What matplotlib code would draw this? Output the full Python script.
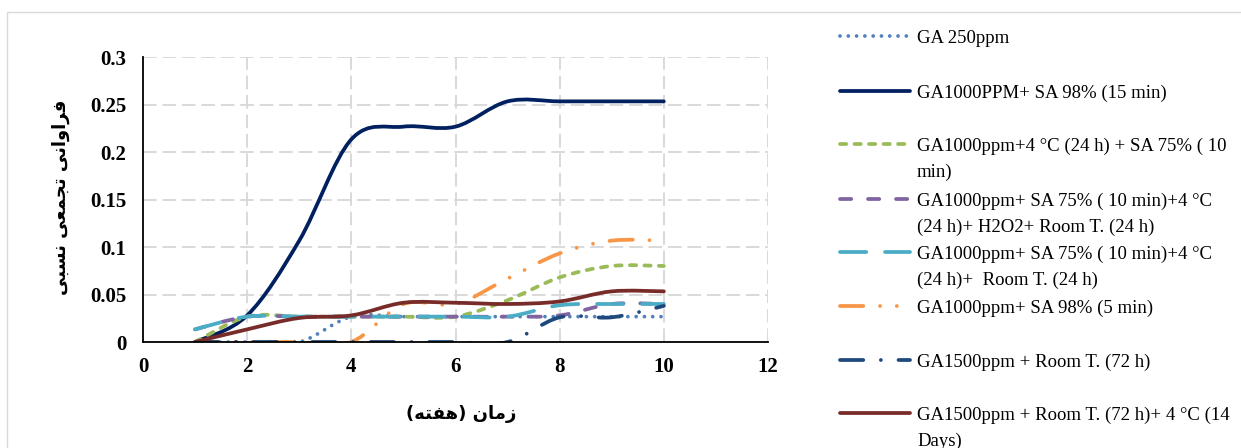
import numpy as np
import matplotlib.pyplot as plt
from matplotlib.path import Path
from matplotlib.patches import PathPatch, Rectangle
from matplotlib.lines import Line2D

# weeks and cumulative relative frequency per treatment
weeks = [1, 2, 3, 4, 5, 6, 7, 8, 9, 10]
ga250 = [0, 0, 0, 0.0267, 0.0267, 0.0267, 0.0267, 0.0267, 0.0267, 0.0267]
ga1000_sa98_15 = [0, 0.028, 0.1067, 0.2133, 0.2267, 0.2267, 0.2533, 0.2533, 0.2533, 0.2533]
ga1000_cold_sa75 = [0, 0.0267, 0.0267, 0.0267, 0.0267, 0.0267, 0.044, 0.068, 0.08, 0.08]
ga1000_sa75_h2o2 = [0.0133, 0.0267, 0.0267, 0.0267, 0.0267, 0.0267, 0.0267, 0.028, 0.04, 0.04]
ga1000_sa75_room = [0.0133, 0.0267, 0.0267, 0.0267, 0.0267, 0.0267, 0.0267, 0.0387, 0.04, 0.04]
ga1000_sa98_5 = [0, 0, 0, 0, 0.04, 0.04, 0.0667, 0.0933, 0.1067, 0.1067]
ga1500_room = [0, 0, 0, 0, 0, 0, 0, 0.026, 0.026, 0.038]
ga1500_room_cold = [0, 0.0133, 0.0253, 0.028, 0.0413, 0.0413, 0.04, 0.0427, 0.0533, 0.0533]

labels = [
    "GA 250ppm",
    "GA1000PPM+ SA 98% (15 min)",
    "GA1000ppm+4 °C (24 h) + SA 75% ( 10\nmin)",
    "GA1000ppm+ SA 75% ( 10 min)+4 °C\n(24 h)+ H2O2+ Room T. (24 h)",
    "GA1000ppm+ SA 75% ( 10 min)+4 °C\n(24 h)+  Room T. (24 h)",
    "GA1000ppm+ SA 98% (5 min)",
    "GA1500ppm + Room T. (72 h)",
    "GA1500ppm + Room T. (72 h)+ 4 °C (14\nDays)",
]
series = [ga250, ga1000_sa98_15, ga1000_cold_sa75, ga1000_sa75_h2o2,
          ga1000_sa75_room, ga1000_sa98_5, ga1500_room, ga1500_room_cold]
colors = ["#4f81bd", "#002060", "#9bbb59", "#8064a2",
          "#4bacc6", "#f79646", "#1f497d", "#772c2a"]
styles = [(0, (0.01, 2.2)), "-", (0, (1.67, 2.2)), (0, (3, 4.47)),
          (0, (7, 5)), (0, (6.2, 4.47, 0.01, 4.47, 0.01, 4.47)),
          (0, (6.2, 4.7, 0.01, 4.7)), "-"]

x_label = "زمان (هفته)"
y_label = "فراوانی تجمعی نسبی"

# minimal Persian shaping (matplotlib has no bidi/shaping)
AR = {
    'ا': ('\uFE8D', '\uFE8E', None, None),
    'ب': ('\uFE8F', '\uFE90', '\uFE91', '\uFE92'),
    'ت': ('\uFE95', '\uFE96', '\uFE97', '\uFE98'),
    'ج': ('\uFE9D', '\uFE9E', '\uFE9F', '\uFEA0'),
    'ر': ('\uFEAD', '\uFEAE', None, None),
    'ز': ('\uFEAF', '\uFEB0', None, None),
    'س': ('\uFEB1', '\uFEB2', '\uFEB3', '\uFEB4'),
    'ع': ('\uFEC9', '\uFECA', '\uFECB', '\uFECC'),
    'ف': ('\uFED1', '\uFED2', '\uFED3', '\uFED4'),
    'م': ('\uFEE1', '\uFEE2', '\uFEE3', '\uFEE4'),
    'ن': ('\uFEE5', '\uFEE6', '\uFEE7', '\uFEE8'),
    'ه': ('\uFEE9', '\uFEEA', '\uFEEB', '\uFEEC'),
    'و': ('\uFEED', '\uFEEE', None, None),
    'ی': ('\uFBFC', '\uFBFD', '\uFBFE', '\uFBFF'),
}


def shape(s):
    out = []
    for i, c in enumerate(s):
        if c not in AR:
            out.append(c)
            continue
        prev = s[i - 1] if i > 0 else ''
        nxt = s[i + 1] if i + 1 < len(s) else ''
        jp = prev in AR and AR[prev][2] is not None
        jn = nxt in AR and AR[c][2] is not None
        f = AR[c]
        if jp and jn:
            out.append(f[3])
        elif jp:
            out.append(f[1])
        elif jn:
            out.append(f[2])
        else:
            out.append(f[0])
    return ''.join(out)[::-1].translate(str.maketrans('()', ')('))


def smooth_path(x, y):
    # Excel-like smoothed line: Catmull-Rom segments as cubic Beziers
    pts = np.column_stack([x, y]).astype(float)
    n = len(pts)
    verts = [pts[0]]
    codes = [Path.MOVETO]
    for i in range(n - 1):
        p0 = pts[max(i - 1, 0)]
        p1 = pts[i]
        p2 = pts[i + 1]
        p3 = pts[min(i + 2, n - 1)]
        verts += [p1 + (p2 - p0) / 6, p2 - (p3 - p1) / 6, p2]
        codes += [Path.CURVE4] * 3
    return Path(verts, codes)


W, H = 1241, 448
fig = plt.figure(figsize=(W / 100, H / 100), dpi=100)
fig.patches.append(Rectangle((7 / W, -0.1), 1.2, 1.1 - 12 / H, transform=fig.transFigure,
                             fill=False, edgecolor="#d9d9d9", lw=1))

ax = fig.add_axes([143 / W, 1 - 342 / H, 625 / W, 285 / H])
ax.set_xlim(0, 12)
ax.set_ylim(0, 0.3)

lw = 2.7
for ys, c, ls in zip(series, colors, styles):
    ax.add_patch(PathPatch(smooth_path(weeks, ys), fill=False, edgecolor=c, lw=lw,
                           linestyle=ls, capstyle='round', joinstyle='round'))

ax.set_xticks(np.arange(0, 13, 2))
ax.set_yticks(np.arange(0, 0.301, 0.05))
ax.set_yticklabels(['0', '0.05', '0.1', '0.15', '0.2', '0.25', '0.3'])
ax.grid(True, color="#d9d9d9", lw=1.4, linestyle=(0, (7, 3)))
ax.set_axisbelow(True)
for s in ['top', 'right']:
    ax.spines[s].set_visible(False)
for s in ['left', 'bottom']:
    ax.spines[s].set_color('black')
    ax.spines[s].set_linewidth(1.3)
ax.tick_params(axis='both', length=0, labelsize=15)
ax.tick_params(axis='y', pad=12)
ax.tick_params(axis='x', pad=11)
for t in ax.get_xticklabels() + ax.get_yticklabels():
    t.set_fontfamily('Liberation Serif')
    t.set_fontweight('bold')

ax.set_xlabel(shape(x_label), family=['DejaVu Sans'], fontweight='bold', fontsize=13)
ax.set_ylabel(shape(y_label), family=['DejaVu Sans'], fontweight='bold', fontsize=13)
ax.xaxis.set_label_coords((461 - 143) / 625, -(405 - 342) / 285)
ax.yaxis.set_label_coords(-(143 - 70) / 625, (342 - 197) / 285)

# legend drawn by hand so wrapped labels hang from the handle like Excel's
hy = [36, 90.7, 144.3, 199, 252.3, 306, 360, 413.3]
for y, lab, c, ls in zip(hy, labels, colors, styles):
    fig.add_artist(Line2D([840 / W, 910 / W], [1 - y / H, 1 - y / H], transform=fig.transFigure,
                          color=c, lw=lw, linestyle=ls, dash_capstyle='round',
                          solid_capstyle='round'))
    for k, line in enumerate(lab.split('\n')):
        fig.text(917 / W, 1 - (y + 7 + 26 * k) / H, line, family='Liberation Serif',
                 fontsize=13.5, va='baseline', ha='left')

fig.savefig('out.png', dpi=100)
